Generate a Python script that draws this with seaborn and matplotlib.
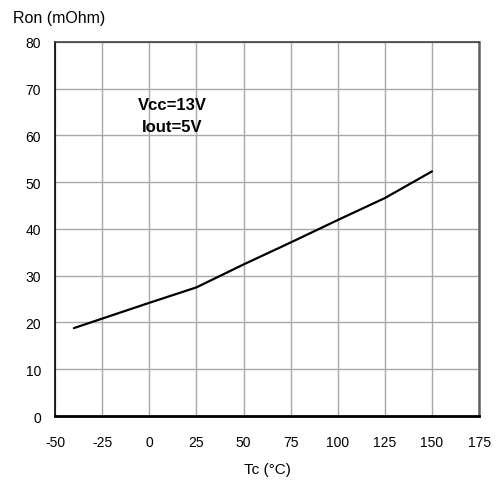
import matplotlib
matplotlib.use("Agg")
import matplotlib.pyplot as plt
import seaborn as sns
import pandas as pd

# Case temperature (°C) and on-resistance (mOhm)
tc = [-40, 0, 25, 50, 75, 100, 125, 150]
ron = [18.8, 24.2, 27.5, 32.4, 37.1, 41.9, 46.6, 52.3]

x_ticks = [-50, -25, 0, 25, 50, 75, 100, 125, 150, 175]
y_ticks = [0, 10, 20, 30, 40, 50, 60, 70, 80]

sns.set_theme(style="white")
plt.rcParams["font.family"] = ["Liberation Sans", "DejaVu Sans"]
plt.rcParams["text.color"] = "black"
plt.rcParams["xtick.color"] = "black"
plt.rcParams["ytick.color"] = "black"
plt.rcParams["axes.labelcolor"] = "black"

df = pd.DataFrame({"Tc": tc, "Ron": ron})

fig = plt.figure(figsize=(4.96, 4.81), dpi=100)
ax = fig.add_axes([0.111, 0.133, 0.855, 0.778])

ax.set_xlim(-50, 175)
ax.set_ylim(0, 80)
ax.set_xticks(x_ticks)
ax.set_yticks(y_ticks)
ax.set_xticklabels([str(v) for v in x_ticks], fontsize=10)
ax.set_yticklabels([str(v) for v in y_ticks], fontsize=10)
ax.tick_params(axis="x", length=0, pad=14)
ax.tick_params(axis="y", length=0, pad=10)

ax.grid(True, color="#a8a8a8", linewidth=1.0)
ax.set_axisbelow(True)

sns.lineplot(data=df, x="Tc", y="Ron", ax=ax, color="black", linewidth=1.6)

for side, col, lw in [("left", "black", 1.2), ("bottom", "black", 2.0),
                      ("top", "#404040", 1.2), ("right", "#606060", 1.8)]:
    ax.spines[side].set_visible(True)
    ax.spines[side].set_color(col)
    ax.spines[side].set_linewidth(lw)

ax.set_xlabel("Tc (°C)", fontsize=11, labelpad=9)
ax.set_ylabel("")
fig.text(0.026, 0.961, "Ron (mOhm)", fontsize=11.5, ha="left", va="center")

ax.text(12, 66.5, "Vcc=13V", fontsize=12, fontweight="bold", ha="center", va="center")
ax.text(12, 61.8, "Iout=5V", fontsize=12, fontweight="bold", ha="center", va="center")

fig.savefig("out.png", dpi=100)
